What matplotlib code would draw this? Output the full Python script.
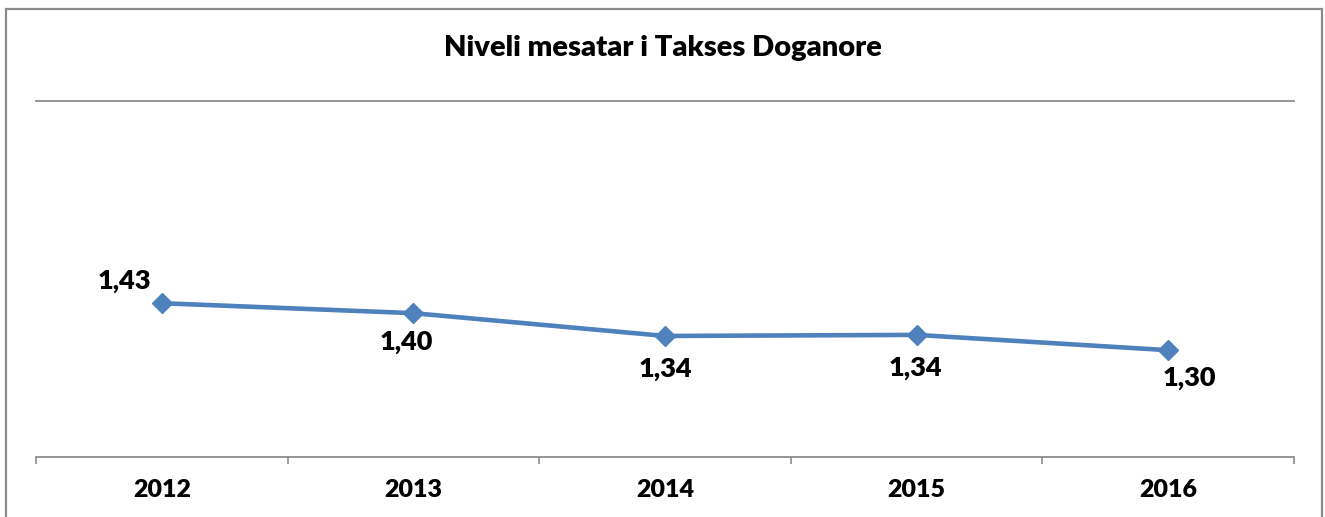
import matplotlib
matplotlib.use('Agg')
import matplotlib.pyplot as plt
from matplotlib.patches import Rectangle

years = ['2012', '2013', '2014', '2015', '2016']
values = [1.432, 1.404, 1.340, 1.343, 1.300]
# label offsets in points (Excel-style placement)
label_offsets = [(-27, 16), (-5, -21), (0, -24), (-1, -24), (15, -20)]

W, H = 1325, 517
plt.rcParams['font.family'] = ['Lato', 'DejaVu Sans']
WEIGHT = 'heavy'

fig = plt.figure(figsize=(W / 100, H / 100), dpi=100)
fig.patches.append(Rectangle((6 / W, -0.05), (1322 - 6) / W, 1.05 - 9 / H,
                             transform=fig.transFigure, fill=False,
                             edgecolor='#8c8c8c', linewidth=1.6))

ax = fig.add_axes([36 / W, (H - 457) / H, (1294 - 36) / W, (457 - 101) / H])
x = list(range(len(years)))
ax.plot(x, values, color='#4F81BD', linewidth=3.3, marker='D', markersize=10,
        markerfacecolor='#4F81BD', markeredgecolor='#4F81BD', solid_capstyle='round')

for xi, v, off in zip(x, values, label_offsets):
    ax.annotate(f'{v:.2f}'.replace('.', ','), (xi, v), xytext=off,
                textcoords='offset points', ha='center', va='center',
                fontsize=19.5, fontweight=WEIGHT, color='black')

ax.set_xlim(-0.5, len(years) - 0.5)
ax.set_ylim(1.0, 2.0)
ax.axhline(2.0, color='#8c8c8c', linewidth=1.3, clip_on=False)

ax.set_xticks([i - 0.5 for i in range(len(years) + 1)])
ax.set_xticklabels([])
ax.tick_params(axis='x', which='major', direction='out', length=5, width=1.2, color='#8c8c8c')
ax.set_xticks(x, minor=True)
ax.set_xticklabels(years, minor=True, fontsize=18, fontweight=WEIGHT)
ax.tick_params(axis='x', which='minor', length=0, pad=16)
ax.set_yticks([])
for s in ['left', 'right', 'top']:
    ax.spines[s].set_visible(False)
ax.spines['bottom'].set_color('#8c8c8c')
ax.spines['bottom'].set_linewidth(1.3)
ax.patch.set_alpha(0)

fig.text(0.5, 1 - 48 / H, 'Niveli mesatar i Takses Doganore', ha='center', va='center',
         fontsize=21, fontweight=WEIGHT)

fig.savefig('out.png', dpi=100)
